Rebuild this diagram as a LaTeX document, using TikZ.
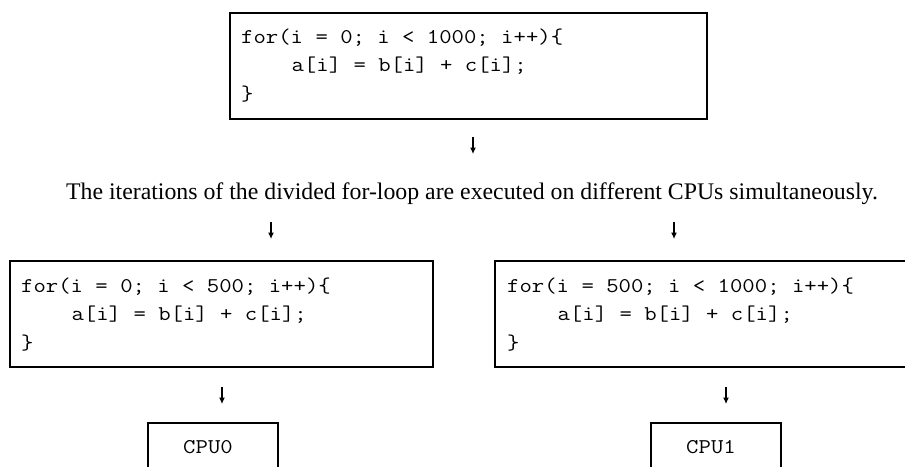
\documentclass[tikz,border=0pt]{standalone}
\usepackage{fontspec}
\usepackage{graphicx}
\setmainfont{Liberation Serif}
\usetikzlibrary{arrows.meta}
\newcommand{\mycode}[1]{\scalebox{1.145}[1]{\ttfamily\fontsize{21}{25}\selectfont #1}}
\tikzset{
  codebox/.style={draw=black, line width=2.8pt, rectangle, inner sep=0pt, fill=none},
  codeline/.style={anchor=base west, inner sep=0pt},
  cputext/.style={anchor=base, inner sep=0pt},
  caption/.style={anchor=base, inner sep=0pt, font=\fontsize{23.8}{28}\selectfont},
  downarrow/.style={line width=1.1pt, -{Latex[length=6.5pt,width=6pt]}}
}
\begin{document}
\begin{tikzpicture}[x=1pt,y=-1pt]
\useasboundingbox (0,0) rectangle (905,466);
\clip (0,0) rectangle (905,466);
% boxes
\node[codebox, minimum width=477pt, minimum height=106pt] (top) at (468.5,66) {};
\node[codebox, minimum width=423pt, minimum height=106pt] (left) at (221.5,314) {};
\node[codebox, minimum width=430pt, minimum height=106pt] (right) at (710,314) {};
\node[codebox, minimum width=130pt, minimum height=70pt] (cpu0) at (213,458) {};
\node[codebox, minimum width=130pt, minimum height=70pt] (cpu1) at (716,458) {};
% top code
\node[codeline] (t1) at (241,43) {\mycode{for(i = 0; i < 1000; i++)\{}};
\node[codeline] (t2) at (291.4,71.5) {\mycode{a[i] = b[i] + c[i];}};
\node[codeline] (t3) at (241,100) {\mycode{\}}};
% left code
\node[codeline] (l1) at (21,292) {\mycode{for(i = 0; i < 500; i++)\{}};
\node[codeline] (l2) at (71.4,320.5) {\mycode{a[i] = b[i] + c[i];}};
\node[codeline] (l3) at (21,349) {\mycode{\}}};
% right code
\node[codeline] (r1) at (507,292) {\mycode{for(i = 500; i < 1000; i++)\{}};
\node[codeline] (r2) at (557.4,320.5) {\mycode{a[i] = b[i] + c[i];}};
\node[codeline] (r3) at (507,349) {\mycode{\}}};
% cpu labels
\node[cputext] (c0) at (208,453) {\mycode{CPU0}};
\node[cputext] (c1) at (711,453) {\mycode{CPU1}};
% caption
\node[caption] (cap) at (472,199) {The iterations of the divided for-loop are executed on different CPUs simultaneously.};
% arrows
\coordinate (a1s) at (473,137); \coordinate (a1e) at (473,154);
\coordinate (a2s) at (271,222); \coordinate (a2e) at (271,239);
\coordinate (a3s) at (674,222); \coordinate (a3e) at (674,239);
\coordinate (a4s) at (222,387); \coordinate (a4e) at (222,404);
\coordinate (a5s) at (726,387); \coordinate (a5e) at (726,404);
\draw[downarrow] (a1s) -- (a1e);
\draw[downarrow] (a2s) -- (a2e);
\draw[downarrow] (a3s) -- (a3e);
\draw[downarrow] (a4s) -- (a4e);
\draw[downarrow] (a5s) -- (a5e);
\end{tikzpicture}
\end{document}
